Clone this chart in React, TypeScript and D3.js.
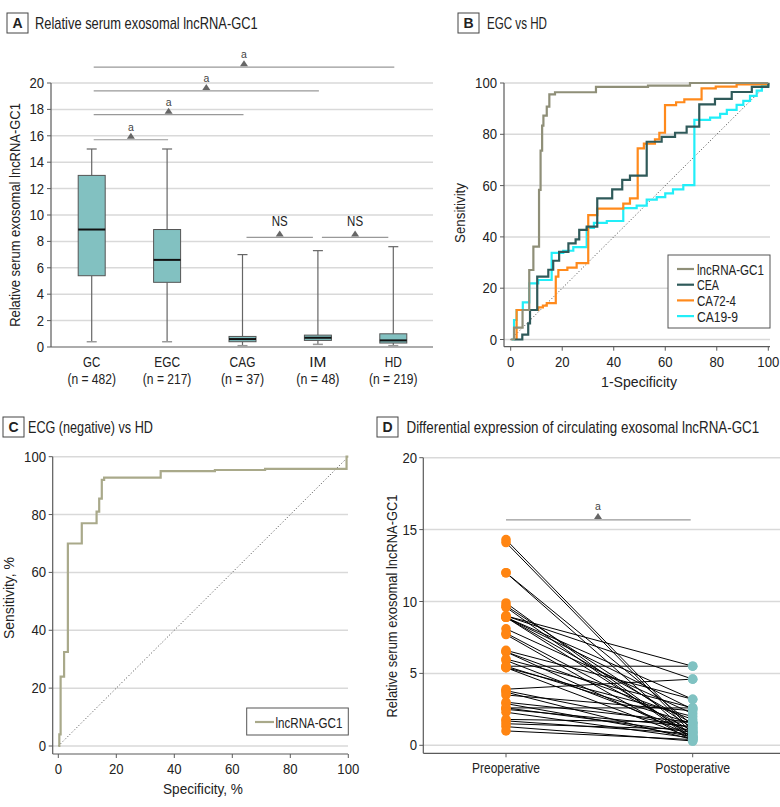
import React from "react";
import * as d3 from "d3";

// ---------- Panel A data ----------
const categories = ["GC", "EGC", "CAG", "IM", "HD"];
const nLabels = ["(n = 482)", "(n = 217)", "(n = 37)", "(n = 48)", "(n = 219)"];
const whiskerLow = [0.4, 0.4, 0.1, 0.2, 0.1];
const q1 = [5.4, 4.9, 0.4, 0.5, 0.3];
const medians = [8.9, 6.6, 0.6, 0.7, 0.5];
const q3 = [13.0, 8.9, 0.8, 0.9, 1.0];
const whiskerHigh = [15.0, 15.0, 7.0, 7.3, 7.6];
const yTicksA = [0, 2, 4, 6, 8, 10, 12, 14, 16, 18, 20];
const sigFrom = ["GC", "GC", "GC", "GC", "CAG", "IM"];
const sigTo = ["EGC", "CAG", "IM", "HD", "IM", "HD"];
const sigLevel = [15.7, 17.6, 19.4, 21.2, 8.3, 8.3];
const sigLabel = ["a", "a", "a", "a", "NS", "NS"];

// ---------- Panel B data (1-specificity, sensitivity) ----------
const rocLnc: [number, number][] = [
  [0, 0], [1.3, 4.6], [4.6, 11.5], [7.2, 27.1], [8.8, 36.2], [11, 58.3], [11.6, 73.6],
  [12.2, 83.4], [12.7, 87.3], [14, 90.8], [15, 95.6], [17.2, 96.4], [33.1, 98.5],
  [53.3, 99], [69.6, 100], [100, 100],
];
const rocCEA: [number, number][] = [
  [1.5, 0], [4.5, 1.9], [6.8, 6.3], [7.5, 11.5], [10.3, 24.5], [14.6, 27.2], [16.5, 30.7],
  [18.8, 34.2], [22.4, 37.5], [25.2, 39], [26.6, 42.7], [29.5, 44], [33.6, 55], [39.4, 58.5],
  [43.3, 62.2], [46.3, 63.9], [52.8, 77.1], [58.6, 79], [63.8, 80.6], [68.3, 83],
  [73.2, 91.7], [79.3, 93.8], [85.8, 96.5], [93.6, 98.5], [100, 100],
];
const rocCA724: [number, number][] = [
  [2.3, 0], [2.3, 11.5], [10.7, 12.5], [12.5, 13.2], [14, 14.2], [17.5, 24.5], [18.5, 27.1],
  [22, 28], [25.6, 29.8], [30.1, 48.5], [33.6, 51], [43.7, 53], [46.3, 55], [49.3, 74.5],
  [51.7, 76.4], [56, 78], [57.7, 80.6], [59.9, 91.4], [64.2, 92.5], [67.4, 93.6],
  [74.1, 97.9], [79.6, 98.6], [87.7, 99.5], [100, 100],
];
const rocCA199: [number, number][] = [
  [0.5, 0], [1.3, 7.6], [2.3, 11.5], [4.7, 14.5], [7.2, 21.9], [10.7, 23.2], [15.9, 33.8],
  [20.4, 34.6], [24.3, 36], [29.5, 43.5], [32.3, 45.5], [37.3, 46.2], [43.7, 51.2],
  [48.9, 52.2], [52.8, 54.5], [56.7, 55.5], [60, 57], [63, 58.5], [67, 60.2], [71.3, 85.6],
  [77.4, 86.5], [81.3, 88], [83.9, 89.5], [87.7, 91.5], [90.3, 93], [92.9, 95], [95.5, 97],
  [97.5, 99], [100, 100],
];
const rocNames = ["lncRNA-GC1", "CEA", "CA72-4", "CA19-9"];
const rocColors = ["#8f8f78", "#2f5a5a", "#ff8a1c", "#22eef8"];
const pctTicks = [0, 20, 40, 60, 80, 100];

// ---------- Panel C data ----------
const rocC: [number, number][] = [
  [0, 0], [0.35, 4], [0.8, 24], [2, 32.5], [3.3, 70], [8.1, 77], [13.2, 81], [14.1, 85.5],
  [15, 92], [15.8, 92.8], [35.3, 95], [54, 95.4], [71.3, 95.8], [99.4, 100], [100, 100],
];

// ---------- Panel D data ----------
const groupsD = ["Preoperative", "Postoperative"];
const preValues = [14.3, 14.1, 12.0, 12.0, 9.9, 9.7, 9.6, 9.0, 9.0, 8.9, 8.9, 8.9, 8.9, 8.1, 7.8, 7.7,
  6.6, 6.5, 6.5, 6.0, 5.9, 5.5, 5.5, 5.4, 5.4, 3.9, 3.8, 3.7, 3.5, 3.0, 2.9, 2.6, 2.6, 2.5, 2.3,
  1.8, 1.7, 1.5, 1.3, 1.0];
const postValues = [1.0, 0.8, 1.4, 0.6, 0.5, 1.2, 0.4, 5.5, 4.6, 3.2, 2.5, 1.5, 0.7, 2.2, 1.0, 0.3,
  3.2, 1.8, 0.6, 2.6, 0.9, 5.5, 1.5, 0.5, 2.0, 4.6, 1.2, 0.4, 2.4, 1.6, 0.6, 2.6, 0.9, 1.3, 0.5,
  1.6, 0.8, 1.1, 0.3, 0.4];
const yTicksD = [0, 5, 10, 15, 20];

const FAMILY = "Liberation Sans";
const FONT = "'Liberation Sans', Arial, sans-serif";
const GRID = "#d9d9d9";
const AXIS = "#5a5a5a";
const TXT = "#222";

let measureCtx: CanvasRenderingContext2D | null = null;
function measure(text: string, size: number) {
  if (!measureCtx) {
    const cv = document.createElement("canvas");
    measureCtx = cv.getContext("2d");
  }
  if (!measureCtx) return text.length * size * 0.55;
  measureCtx.font = `${size}px '${FAMILY}'`;
  return measureCtx.measureText(text).width;
}

// Text helper: condenses glyphs horizontally (via scale) to a target on-screen length
function T({ x = 0, y = 0, rot = 0, len, size, text, anchor = "start", fill = TXT, weight }: any) {
  const sx = len ? len / measure(text, size) : 1;
  const tr = `translate(${x},${y})${rot ? ` rotate(${rot})` : ""} scale(${sx},1)`;
  return (
    <text transform={tr} fontSize={size} textAnchor={anchor} fill={fill} fontWeight={weight}>
      {text}
    </text>
  );
}

function tickLen(s: string | number) {
  return String(s).length * 7.3;
}

function TitleBox({ x, y, letter, text, tx, len }: { x: number; y: number; letter: string; text: string; tx: number; len: number }) {
  return (
    <g>
      <rect x={x} y={y} width={21} height={20} fill="white" stroke="#444" strokeWidth={1} />
      <text x={x + 10.5} y={y + 15} textAnchor="middle" fontWeight="bold" fontSize={14} fill={TXT}>{letter}</text>
      <T x={tx} y={y + 15.5} size={16} len={len} text={text} />
    </g>
  );
}

function Triangle({ cx, cy }: { cx: number; cy: number }) {
  return <path d={`M${cx - 4},${cy} L${cx + 4},${cy} L${cx},${cy - 6} Z`} fill="#666" />;
}

function PanelA() {
  const y = d3.scaleLinear().domain([0, 20]).range([347, 83]);
  const x = d3.scaleBand().domain(categories).range([54, 431]);
  const c = (k: string) => (x(k) as number) + x.bandwidth() / 2;
  const bw = 27;
  return (
    <g>
      <TitleBox x={7} y={13} letter="A" text="Relative serum exosomal lncRNA-GC1" tx={35} len={223} />
      {yTicksA.filter((t) => t > 0).map((t) => (
        <line key={t} x1={51} x2={433} y1={y(t)} y2={y(t)} stroke={GRID} strokeWidth={1.5} />
      ))}
      {yTicksA.map((t) => (
        <g key={"t" + t}>
          <line x1={47} x2={51} y1={y(t)} y2={y(t)} stroke={AXIS} />
          <T x={44} y={y(t) + 5} anchor="end" size={14.5} len={tickLen(t)} text={String(t)} />
        </g>
      ))}
      <line x1={51} x2={51} y1={y(20)} y2={347} stroke={AXIS} strokeWidth={1.2} />
      <line x1={51} x2={433} y1={347} y2={347} stroke={AXIS} strokeWidth={1.2} />
      <T x={20} y={215} rot={-90} anchor="middle" size={15} len={224} text="Relative serum exosomal lncRNA-GC1" />
      {categories.map((k, i) => {
        const cx = c(k);
        return (
          <g key={k}>
            <line x1={cx} x2={cx} y1={y(whiskerHigh[i])} y2={y(q3[i])} stroke="#666" strokeWidth={1.2} />
            <line x1={cx} x2={cx} y1={y(q1[i])} y2={y(whiskerLow[i])} stroke="#666" strokeWidth={1.2} />
            <line x1={cx - 5} x2={cx + 5} y1={y(whiskerHigh[i])} y2={y(whiskerHigh[i])} stroke="#666" strokeWidth={1.2} />
            <line x1={cx - 5} x2={cx + 5} y1={y(whiskerLow[i])} y2={y(whiskerLow[i])} stroke="#999" strokeWidth={1.5} />
            <rect x={cx - bw / 2} y={y(q3[i])} width={bw} height={y(q1[i]) - y(q3[i])} fill="#82c1c1" stroke="#555" strokeWidth={1} />
            <line x1={cx - bw / 2} x2={cx + bw / 2} y1={y(medians[i])} y2={y(medians[i])} stroke="#111" strokeWidth={2} />
            <T x={cx} y={367} anchor="middle" size={15} len={k.length * 8.6} text={k} />
            <T x={cx} y={384} anchor="middle" size={15} len={nLabels[i].length * 5.4} text={nLabels[i]} />
          </g>
        );
      })}
      {sigFrom.map((f, i) => {
        const ns = sigLabel[i] === "NS";
        const x1 = ns ? c(f) + 4 : c(f) + 2;
        const x2 = ns ? c(sigTo[i]) - 5 : c(sigTo[i]) + 1;
        const yy = y(sigLevel[i]);
        const mid = (x1 + x2) / 2;
        return (
          <g key={"s" + i}>
            <line x1={x1} x2={x2} y1={yy} y2={yy} stroke="#999" strokeWidth={1.2} />
            <Triangle cx={mid} cy={yy - 1} />
            <T x={mid} y={ns ? yy - 11 : yy - 9} anchor="middle" size={ns ? 14 : 10.5} fill={ns ? TXT : "#444"} len={ns ? 16 : undefined} text={sigLabel[i]} />
          </g>
        );
      })}
    </g>
  );
}

function PanelB() {
  const x = d3.scaleLinear().domain([0, 100]).range([510.7, 768.3]);
  const y = d3.scaleLinear().domain([0, 100]).range([339.5, 83]);
  const line = d3.line<[number, number]>().x((d) => x(d[0])).y((d) => y(d[1])).curve(d3.curveStepAfter);
  const series = [rocLnc, rocCEA, rocCA724, rocCA199];
  const order = [3, 2, 1, 0];
  const legLens = [67, 22, 39, 41];
  return (
    <g>
      <TitleBox x={458} y={13} letter="B" text="EGC vs HD" tx={487} len={60} />
      {pctTicks.map((t) => (
        <g key={t}>
          <line x1={504} x2={770} y1={y(t)} y2={y(t)} stroke={GRID} strokeWidth={1.5} />
          <line x1={500} x2={504} y1={y(t)} y2={y(t)} stroke={AXIS} />
          <T x={497} y={y(t) + 5} anchor="end" size={14.5} len={tickLen(t)} text={String(t)} />
          <line x1={x(t)} x2={x(t)} y1={346.7} y2={350.7} stroke={AXIS} />
          <T x={x(t)} y={367} anchor="middle" size={14.5} len={tickLen(t)} text={String(t)} />
        </g>
      ))}
      <line x1={504} x2={504} y1={83} y2={346.7} stroke={AXIS} strokeWidth={1.2} />
      <line x1={504} x2={770} y1={346.7} y2={346.7} stroke={AXIS} strokeWidth={1.2} />
      <line x1={x(0)} y1={y(0)} x2={x(100)} y2={y(100)} stroke="#444" strokeWidth={1} strokeDasharray="1,2.2" />
      {order.map((i) => (
        <path key={i} d={line(series[i]) as string} fill="none" stroke={rocColors[i]} strokeWidth={2.2} />
      ))}
      <T x={639} y={387} anchor="middle" size={15.5} len={76} text="1-Specificity" />
      <T x={465} y={213} rot={-90} anchor="middle" size={15.5} len={60} text="Sensitivity" />
      <rect x={668} y={255} width={102} height={73} fill="white" stroke="#555" strokeWidth={1} />
      {rocNames.map((n, i) => (
        <g key={n}>
          <line x1={677} x2={694} y1={269 + i * 15.7} y2={269 + i * 15.7} stroke={rocColors[i]} strokeWidth={2.2} />
          <T x={697} y={274.5 + i * 15.7} size={15} len={legLens[i]} text={n} />
        </g>
      ))}
    </g>
  );
}

function PanelC() {
  const x = d3.scaleLinear().domain([0, 100]).range([58.3, 348.3]);
  const y = d3.scaleLinear().domain([0, 100]).range([746, 456.7]);
  const line = d3.line<[number, number]>().x((d) => x(d[0])).y((d) => y(d[1])).curve(d3.curveStepAfter);
  return (
    <g>
      <TitleBox x={3} y={417} letter="C" text="ECG (negative) vs HD" tx={28} len={125} />
      {pctTicks.map((t) => (
        <g key={t}>
          <line x1={52.7} x2={348} y1={y(t)} y2={y(t)} stroke={GRID} strokeWidth={1.5} />
          <line x1={48.7} x2={52.7} y1={y(t)} y2={y(t)} stroke={AXIS} />
          <T x={46} y={y(t) + 5} anchor="end" size={14.5} len={tickLen(t)} text={String(t)} />
          <line x1={x(t)} x2={x(t)} y1={754} y2={758} stroke={AXIS} />
          <T x={x(t)} y={774} anchor="middle" size={14.5} len={tickLen(t)} text={String(t)} />
        </g>
      ))}
      <line x1={52.7} x2={52.7} y1={456.7} y2={754} stroke={AXIS} strokeWidth={1.2} />
      <line x1={52.7} x2={348} y1={754} y2={754} stroke={AXIS} strokeWidth={1.2} />
      <line x1={x(0)} y1={y(0)} x2={x(100)} y2={y(100)} stroke="#444" strokeWidth={1} strokeDasharray="1,2.2" />
      <path d={line(rocC) as string} fill="none" stroke="#a9a98a" strokeWidth={2.2} />
      <T x={203} y={794} anchor="middle" size={15.5} len={80} text="Specificity, %" />
      <T x={14} y={598} rot={-90} anchor="middle" size={15.5} len={82} text="Sensitivity, %" />
      <rect x={246.7} y={708} width={101.6} height={27} fill="white" stroke="#555" strokeWidth={1} />
      <line x1={255} x2={274} y1={722} y2={722} stroke="#a9a98a" strokeWidth={2.2} />
      <T x={275.5} y={727.5} size={15} len={67} text="lncRNA-GC1" />
    </g>
  );
}

function PanelD() {
  const y = d3.scaleLinear().domain([0, 20]).range([745.3, 457.7]);
  const x = d3.scalePoint().domain(groupsD).range([506, 692.7]);
  const xp = x("Preoperative") as number;
  const xq = x("Postoperative") as number;
  const xLens = [68, 75];
  return (
    <g>
      <TitleBox x={377} y={417} letter="D" text="Differential expression of circulating exosomal lncRNA-GC1" tx={406.5} len={353} />
      {yTicksD.map((t) => (
        <g key={t}>
          <line x1={423.3} x2={780} y1={y(t)} y2={y(t)} stroke={GRID} strokeWidth={1.5} />
          <line x1={419.3} x2={423.3} y1={y(t)} y2={y(t)} stroke={AXIS} />
          <T x={417} y={y(t) + 5} anchor="end" size={14.5} len={tickLen(t)} text={String(t)} />
        </g>
      ))}
      <line x1={423.3} x2={423.3} y1={457.7} y2={753.3} stroke={AXIS} strokeWidth={1.2} />
      <line x1={423.3} x2={780} y1={753.3} y2={753.3} stroke={AXIS} strokeWidth={1.2} />
      {groupsD.map((g, i) => (
        <g key={g}>
          <line x1={x(g) as number} x2={x(g) as number} y1={753.3} y2={757.3} stroke={AXIS} />
          <T x={x(g) as number} y={773} anchor="middle" size={15} len={xLens[i]} text={g} />
        </g>
      ))}
      <T x={397} y={606} rot={-90} anchor="middle" size={15} len={223} text="Relative serum exosomal lncRNA-GC1" />
      <line x1={xp} x2={690.7} y1={y(15.67)} y2={y(15.67)} stroke="#999" strokeWidth={1.2} />
      <Triangle cx={598} cy={y(15.67) - 1} />
      <text x={598} y={y(15.67) - 10} textAnchor="middle" fontSize={10.5} fill="#444">a</text>
      {preValues.map((v, i) => (
        <line key={"l" + i} x1={xp} x2={xq} y1={y(v)} y2={y(postValues[i])} stroke="#000" strokeWidth={1} />
      ))}
      {preValues.map((v, i) => (
        <circle key={"p" + i} cx={xp} cy={y(v)} r={4.8} fill="#ff8512" />
      ))}
      {postValues.map((v, i) => (
        <circle key={"q" + i} cx={xq} cy={y(v)} r={4.8} fill="#80c2c2" />
      ))}
    </g>
  );
}

export default function App() {
  return (
    <svg
      width={780}
      height={807}
      style={{ position: "absolute", left: 0, top: 0, background: "white", fontFamily: FONT }}
    >
      <rect width={780} height={807} fill="white" />
      <PanelA />
      <PanelB />
      <PanelC />
      <PanelD />
    </svg>
  );
}
